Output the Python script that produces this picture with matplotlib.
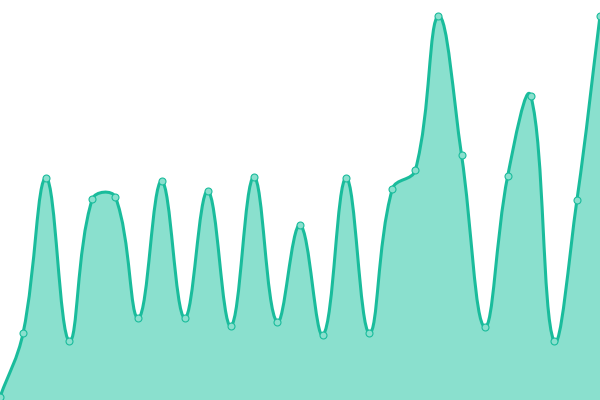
import numpy as np
import matplotlib
matplotlib.use("Agg")
import matplotlib.pyplot as plt
from matplotlib.path import Path
from matplotlib.patches import PathPatch

# Data
labels = list(range(27))
values = [3, 67, 222, 59, 201, 203, 82, 219, 82, 209, 74, 223, 78, 175, 65,
          222, 67, 211, 230, 384, 245, 73, 224, 304, 59, 200, 384]

line_color = "#1abc9c"
fill_color = "#8ae0ce"
tension = 0.4

fig = plt.figure(figsize=(6, 4), dpi=100)
ax = fig.add_axes([0, 0, 1, 1])
ax.set_xlim(0, len(values) - 1)
ax.set_ylim(0, 400)
ax.axis("off")

# Chart.js style spline computed in display space
pts = ax.transData.transform(np.column_stack([labels, values]).astype(float))
n = len(pts)
cp_prev = np.zeros_like(pts)
cp_next = np.zeros_like(pts)
for i in range(n):
    prev = pts[i - 1] if i > 0 else pts[i]
    cur = pts[i]
    nxt = pts[i + 1] if i < n - 1 else pts[i]
    d01 = np.hypot(*(cur - prev))
    d12 = np.hypot(*(nxt - cur))
    tot = d01 + d12
    s01 = d01 / tot if tot else 0
    s12 = d12 / tot if tot else 0
    fa = tension * s01
    fb = tension * s12
    cp_prev[i] = cur - fa * (nxt - prev)
    cp_next[i] = cur + fb * (nxt - prev)

inv = ax.transData.inverted()
P = inv.transform(pts)
CPp = inv.transform(cp_prev)
CPn = inv.transform(cp_next)

verts = [P[0]]
codes = [Path.MOVETO]
for i in range(n - 1):
    verts += [CPn[i], CPp[i + 1], P[i + 1]]
    codes += [Path.CURVE4] * 3

line_path = Path(verts, codes)
fill_verts = verts + [(P[-1][0], 0), (P[0][0], 0), P[0]]
fill_codes = codes + [Path.LINETO, Path.LINETO, Path.CLOSEPOLY]
fill_path = Path(fill_verts, fill_codes)

ax.add_patch(PathPatch(fill_path, facecolor=fill_color, edgecolor="none", zorder=1))
ax.add_patch(PathPatch(line_path, facecolor="none", edgecolor=line_color,
                       linewidth=2.2, zorder=2, capstyle="round", joinstyle="round"))
ax.plot(labels, values, linestyle="none", marker="o", markersize=5,
        markerfacecolor=fill_color, markeredgecolor=line_color,
        markeredgewidth=0.8, zorder=3, clip_on=True)

fig.savefig("out.png", dpi=100)
